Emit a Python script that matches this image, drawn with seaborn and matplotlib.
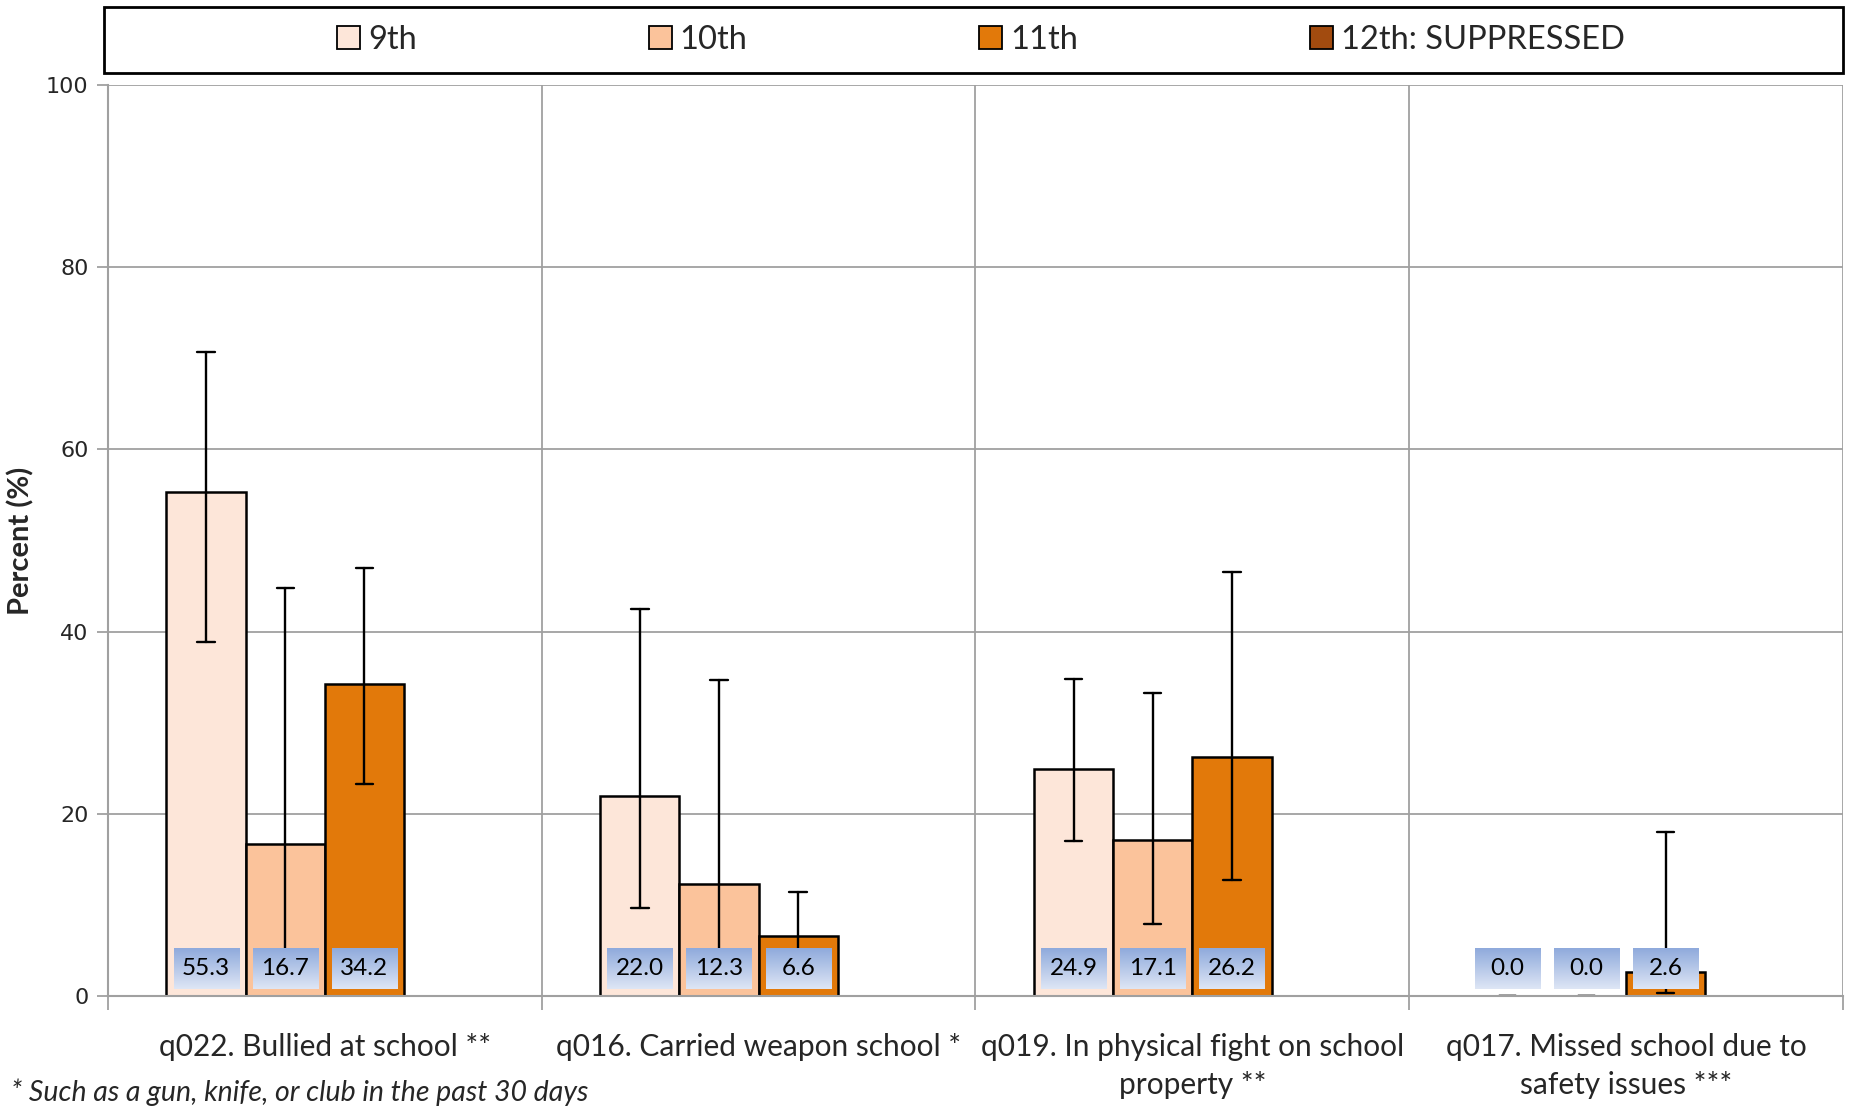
import numpy as np
import pandas as pd
import matplotlib.pyplot as plt
import seaborn as sns
from matplotlib.colors import to_rgb
from matplotlib.patches import Patch, Rectangle

# Chart data
categories = ["q022. Bullied at school **",
              "q016. Carried weapon school *",
              "q019. In physical fight on school\nproperty **",
              "q017. Missed school due to\nsafety issues ***"]
grades = ["9th", "10th", "11th", "12th: SUPPRESSED"]
shown_grades = ["9th", "10th", "11th"]

# percent per grade (rows) and category (columns)
values = {"9th": [55.3, 22.0, 24.9, 0.0],
          "10th": [16.7, 12.3, 17.1, 0.0],
          "11th": [34.2, 6.6, 26.2, 2.6]}
lower = {"9th": [38.9, 9.7, 17.0, 0.0],
         "10th": [2.0, 3.0, 7.9, 0.0],
         "11th": [23.3, 3.0, 12.7, 0.3]}
upper = {"9th": [70.7, 42.5, 34.8, 0.0],
         "10th": [44.8, 34.7, 33.3, 0.0],
         "11th": [47.0, 11.4, 46.5, 18.0]}

colors = {"9th": "#FDE6D9", "10th": "#FBC39B",
          "11th": "#E2790A", "12th: SUPPRESSED": "#A24B0F"}

footnote = "* Such as a gun, knife, or club in the past 30 days"


def main():
    # long table: lo / value / hi per bar, median = value, 100% interval = lo..hi
    rows = []
    for g in shown_grades:
        for i, cat in enumerate(categories):
            for v in (lower[g][i], values[g][i], upper[g][i]):
                rows.append({"category": cat, "grade": g, "pct": v})
    df = pd.DataFrame(rows)

    sns.set_theme(style="white")
    plt.rcParams['font.family'] = ['Lato', 'DejaVu Sans']

    fig = plt.figure(figsize=(18.51, 11.09), dpi=100)
    ax = fig.add_axes([0.0583, 0.1019, 0.9374, 0.8215])

    sns.barplot(data=df, x="category", y="pct", hue="grade",
                order=categories, hue_order=grades, palette=colors,
                saturation=1, estimator="median", errorbar=("pi", 100),
                width=0.73, capsize=0.16, edgecolor="black", linewidth=1.8,
                err_kws={"color": "black", "linewidth": 1.7},
                legend=False, ax=ax)

    # gradient label boxes with the value near the bottom of each bar
    top_c, bot_c = np.array(to_rgb("#8FAADC")), np.array(to_rgb("#DEE6F5"))
    t = np.linspace(0, 1, 64)[:, None]
    grad = (top_c * (1 - t) + bot_c * t)[:, None, :]
    for container, g in zip(ax.containers, shown_grades):
        for patch, v in zip(container.patches, values[g]):
            xc = patch.get_x() + patch.get_width() / 2
            ax.imshow(grad, extent=(xc - 0.075, xc + 0.075, 0.75, 5.25),
                      origin="upper", aspect="auto", zorder=4,
                      interpolation="bilinear")
            ax.text(xc, 3.0, f"{v:.1f}", ha="center", va="center",
                    fontsize=17.5, color="black", zorder=5)

    ax.set_ylim(0, 100)
    ax.set_xlim(-0.5, len(categories) - 0.5)
    ax.set_yticks(range(0, 101, 20))
    ax.set_yticklabels([str(t) for t in range(0, 101, 20)],
                       family="DejaVu Sans", fontsize=16)
    ax.set_xticks(range(len(categories)))
    ax.set_xticklabels(categories, fontsize=21.5, linespacing=1.4)
    ax.set_xticks([i - 0.5 for i in range(len(categories) + 1)], minor=True)
    ax.tick_params(axis="x", which="major", length=0, pad=27)
    ax.tick_params(axis="x", which="minor", length=10, color="#A0A0A0",
                   width=1.3, bottom=True)
    ax.tick_params(axis="y", length=8, color="#A0A0A0", width=1.3, left=True,
                   pad=6)

    ax.grid(axis="y", color="#A0A0A0", linewidth=1.3)
    ax.grid(axis="x", which="minor", color="#A0A0A0", linewidth=1.3)
    ax.set_axisbelow(True)
    for side in ["top", "right"]:
        ax.spines[side].set_visible(False)
    for side in ["left", "bottom"]:
        ax.spines[side].set_color("#A0A0A0")
        ax.spines[side].set_linewidth(1.5)

    ax.set_xlabel("")
    ax.set_ylabel("Percent (%)", fontsize=21, fontweight="bold", labelpad=8)

    # legend in a wide framed box across the top
    fig.patches.append(Rectangle((0.0562, 0.9342), 0.9395, 0.0595,
                                 transform=fig.transFigure, fill=False,
                                 edgecolor="black", linewidth=2))
    handles = [Patch(facecolor=colors[g], edgecolor="black", linewidth=1.3)
               for g in grades]
    fig.legend(handles, grades, loc="center", bbox_to_anchor=(0.53, 0.964),
               ncol=4, frameon=False, fontsize=23.5, handlelength=0.7,
               handleheight=0.7, handletextpad=0.25, columnspacing=7.1)

    fig.text(0.006, 0.003, footnote, ha="left", va="bottom", fontsize=20.5,
             style="italic")

    fig.savefig("out.png", dpi=100)


if __name__ == "__main__":
    main()
